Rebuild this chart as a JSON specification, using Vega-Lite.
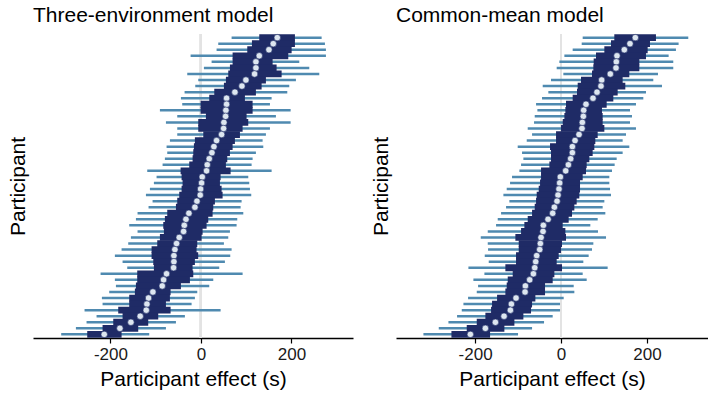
{
  "$schema": "https://vega.github.io/schema/vega-lite/v6.json",
  "padding": {"left": 7, "top": 5, "right": 0, "bottom": 4},
  "spacing": 17,
  "config": {
    "view": {"stroke": null},
    "font": "Liberation Sans",
    "title": {"fontSize": 21, "fontWeight": "normal", "anchor": "start", "frame": "group", "color": "black", "offset": 7},
    "axisX": {"domainColor": "black", "domainWidth": 1.5, "tickColor": "black", "tickWidth": 1.2, "tickSize": 5, "labelFontSize": 17, "labelColor": "#1a1a1a", "labelPadding": 3, "titleFontSize": 21, "titleFontWeight": "normal", "titleColor": "black", "titlePadding": 6, "grid": false},
    "axisY": {"domain": false, "ticks": false, "labels": false, "grid": false, "titleFontSize": 21, "titleFontWeight": "normal", "titleColor": "black", "titlePadding": 5}
  },
  "datasets": {
    "three": [
      {"p":1,"m":168.7,"lo1":128.9,"hi1":207.7,"lo2":67.8,"hi2":266.7},
      {"p":2,"m":159.8,"lo1":112.7,"hi1":207.7,"lo2":38.3,"hi2":274.0},
      {"p":3,"m":150.3,"lo1":102.4,"hi1":200.4,"lo2":34.6,"hi2":276.2},
      {"p":4,"m":128.9,"lo1":70.0,"hi1":193.0,"lo2":-22.8,"hi2":276.2},
      {"p":5,"m":121.5,"lo1":70.0,"hi1":158.4,"lo2":23.6,"hi2":217.3},
      {"p":6,"m":121.5,"lo1":64.1,"hi1":167.2,"lo2":6.6,"hi2":239.4},
      {"p":7,"m":118.6,"lo1":60.4,"hi1":178.3,"lo2":-30.2,"hi2":261.5},
      {"p":8,"m":99.4,"lo1":55.2,"hi1":143.6,"lo2":-5.9,"hi2":209.9},
      {"p":9,"m":90.6,"lo1":50.8,"hi1":134.1,"lo2":-12.5,"hi2":195.2},
      {"p":10,"m":75.1,"lo1":29.5,"hi1":121.5,"lo2":-36.1,"hi2":190.8},
      {"p":11,"m":56.7,"lo1":18.4,"hi1":97.2,"lo2":-44.2,"hi2":156.2},
      {"p":12,"m":56.7,"lo1":-0.7,"hi1":114.2,"lo2":-41.3,"hi2":152.5},
      {"p":13,"m":55.2,"lo1":-0.7,"hi1":114.2,"lo2":-90.6,"hi2":198.2},
      {"p":14,"m":54.5,"lo1":11.0,"hi1":100.9,"lo2":-52.3,"hi2":165.7},
      {"p":15,"m":50.8,"lo1":-5.9,"hi1":104.6,"lo2":-77.3,"hi2":198.2},
      {"p":16,"m":50.1,"lo1":-5.9,"hi1":92.1,"lo2":-52.3,"hi2":152.5},
      {"p":17,"m":45.7,"lo1":5.2,"hi1":86.2,"lo2":-52.3,"hi2":143.6},
      {"p":18,"m":34.6,"lo1":-13.3,"hi1":75.1,"lo2":-68.5,"hi2":136.3},
      {"p":19,"m":28.7,"lo1":-15.5,"hi1":70.0,"lo2":-75.9,"hi2":137.8},
      {"p":20,"m":24.3,"lo1":-16.9,"hi1":64.1,"lo2":-74.4,"hi2":121.5},
      {"p":21,"m":18.4,"lo1":-18.4,"hi1":58.2,"lo2":-79.6,"hi2":114.2},
      {"p":22,"m":14.0,"lo1":-25.8,"hi1":55.2,"lo2":-84.7,"hi2":112.0},
      {"p":23,"m":12.5,"lo1":-44.9,"hi1":65.6,"lo2":-118.6,"hi2":156.2},
      {"p":24,"m":2.9,"lo1":-42.7,"hi1":43.5,"lo2":-98.0,"hi2":104.6},
      {"p":25,"m":1.5,"lo1":-40.5,"hi1":42.0,"lo2":-103.9,"hi2":106.8},
      {"p":26,"m":-0.7,"lo1":-42.7,"hi1":45.7,"lo2":-112.7,"hi2":108.3},
      {"p":27,"m":-1.5,"lo1":-47.9,"hi1":47.9,"lo2":-121.5,"hi2":111.2},
      {"p":28,"m":-8.8,"lo1":-52.3,"hi1":30.9,"lo2":-106.8,"hi2":89.9},
      {"p":29,"m":-13.3,"lo1":-55.2,"hi1":27.3,"lo2":-115.7,"hi2":87.7},
      {"p":30,"m":-26.5,"lo1":-74.4,"hi1":25.8,"lo2":-140.0,"hi2":93.6},
      {"p":31,"m":-33.1,"lo1":-79.6,"hi1":16.2,"lo2":-143.6,"hi2":80.3},
      {"p":32,"m":-36.8,"lo1":-83.2,"hi1":12.5,"lo2":-158.4,"hi2":78.8},
      {"p":33,"m":-38.3,"lo1":-81.8,"hi1":3.7,"lo2":-140.0,"hi2":64.1},
      {"p":34,"m":-47.9,"lo1":-90.6,"hi1":1.5,"lo2":-154.7,"hi2":60.4},
      {"p":35,"m":-53.8,"lo1":-96.5,"hi1":-8.1,"lo2":-160.6,"hi2":50.8},
      {"p":36,"m":-57.5,"lo1":-109.0,"hi1":-9.6,"lo2":-175.3,"hi2":67.8},
      {"p":37,"m":-59.7,"lo1":-109.0,"hi1":-5.9,"lo2":-190.1,"hi2":64.8},
      {"p":38,"m":-59.7,"lo1":-105.3,"hi1":-13.3,"lo2":-173.1,"hi2":53.0},
      {"p":39,"m":-60.4,"lo1":-103.9,"hi1":-18.4,"lo2":-162.8,"hi2":40.5},
      {"p":40,"m":-75.9,"lo1":-140.7,"hi1":-16.9,"lo2":-221.7,"hi2":92.1},
      {"p":41,"m":-82.5,"lo1":-140.7,"hi1":-24.3,"lo2":-190.1,"hi2":27.3},
      {"p":42,"m":-85.5,"lo1":-143.6,"hi1":-44.2,"lo2":-187.8,"hi2":18.4},
      {"p":43,"m":-106.1,"lo1":-145.9,"hi1":-67.0,"lo2":-202.6,"hi2":-8.1},
      {"p":44,"m":-115.7,"lo1":-158.4,"hi1":-68.5,"lo2":-218.8,"hi2":-13.3},
      {"p":45,"m":-119.3,"lo1":-158.4,"hi1":-77.3,"lo2":-217.3,"hi2":-20.6},
      {"p":46,"m":-120.8,"lo1":-182.7,"hi1":-67.0,"lo2":-257.1,"hi2":43.5},
      {"p":47,"m":-134.1,"lo1":-173.1,"hi1":-94.3,"lo2":-230.6,"hi2":-35.4},
      {"p":48,"m":-154.7,"lo1":-193.7,"hi1":-116.4,"lo2":-252.7,"hi2":-55.2},
      {"p":49,"m":-179.0,"lo1":-217.3,"hi1":-138.5,"lo2":-276.2,"hi2":-77.3},
      {"p":50,"m":-213.6,"lo1":-251.2,"hi1":-175.3,"lo2":-308.7,"hi2":-114.2}
    ],
    "common": [
      {"p":1,"m":172.9,"lo1":124.0,"hi1":220.9,"lo2":50.4,"hi2":296.1},
      {"p":2,"m":160.5,"lo1":116.3,"hi1":207.0,"lo2":48.1,"hi2":273.6},
      {"p":3,"m":147.3,"lo1":100.8,"hi1":201.6,"lo2":27.1,"hi2":267.4},
      {"p":4,"m":130.2,"lo1":81.4,"hi1":197.7,"lo2":7.8,"hi2":250.4},
      {"p":5,"m":128.7,"lo1":76.0,"hi1":182.2,"lo2":-3.9,"hi2":261.2},
      {"p":6,"m":127.9,"lo1":75.2,"hi1":182.2,"lo2":-10.1,"hi2":261.2},
      {"p":7,"m":114.7,"lo1":72.1,"hi1":158.9,"lo2":5.4,"hi2":225.6},
      {"p":8,"m":94.6,"lo1":46.5,"hi1":143.4,"lo2":-23.3,"hi2":214.7},
      {"p":9,"m":93.0,"lo1":38.8,"hi1":149.6,"lo2":-42.6,"hi2":234.9},
      {"p":10,"m":83.7,"lo1":37.2,"hi1":131.8,"lo2":-29.5,"hi2":197.7},
      {"p":11,"m":74.4,"lo1":27.1,"hi1":121.7,"lo2":-44.2,"hi2":191.5},
      {"p":12,"m":58.1,"lo1":11.6,"hi1":106.2,"lo2":-58.1,"hi2":174.4},
      {"p":13,"m":52.7,"lo1":10.1,"hi1":95.3,"lo2":-55.0,"hi2":160.5},
      {"p":14,"m":51.9,"lo1":7.8,"hi1":96.9,"lo2":-61.2,"hi2":165.1},
      {"p":15,"m":49.6,"lo1":3.9,"hi1":96.9,"lo2":-62.8,"hi2":160.5},
      {"p":16,"m":48.8,"lo1":0.0,"hi1":100.8,"lo2":-77.5,"hi2":174.4},
      {"p":17,"m":41.9,"lo1":-11.6,"hi1":85.3,"lo2":-67.4,"hi2":151.2},
      {"p":18,"m":32.6,"lo1":-11.6,"hi1":79.8,"lo2":-79.8,"hi2":143.4},
      {"p":19,"m":26.4,"lo1":-25.6,"hi1":77.5,"lo2":-100.8,"hi2":158.9},
      {"p":20,"m":26.4,"lo1":-23.3,"hi1":73.6,"lo2":-90.7,"hi2":143.4},
      {"p":21,"m":22.5,"lo1":-23.3,"hi1":65.9,"lo2":-87.6,"hi2":129.5},
      {"p":22,"m":17.1,"lo1":-27.1,"hi1":59.7,"lo2":-93.0,"hi2":124.8},
      {"p":23,"m":10.9,"lo1":-46.5,"hi1":58.1,"lo2":-96.9,"hi2":118.6},
      {"p":24,"m":-1.6,"lo1":-46.5,"hi1":50.4,"lo2":-114.0,"hi2":112.4},
      {"p":25,"m":-3.1,"lo1":-48.8,"hi1":44.2,"lo2":-118.6,"hi2":112.4},
      {"p":26,"m":-4.7,"lo1":-51.9,"hi1":44.2,"lo2":-126.4,"hi2":114.0},
      {"p":27,"m":-7.0,"lo1":-56.6,"hi1":42.6,"lo2":-134.1,"hi2":116.3},
      {"p":28,"m":-9.3,"lo1":-58.1,"hi1":36.4,"lo2":-120.2,"hi2":100.8},
      {"p":29,"m":-15.5,"lo1":-61.2,"hi1":31.0,"lo2":-127.9,"hi2":96.9},
      {"p":30,"m":-19.4,"lo1":-67.4,"hi1":25.6,"lo2":-139.5,"hi2":103.1},
      {"p":31,"m":-30.2,"lo1":-77.5,"hi1":17.8,"lo2":-147.3,"hi2":85.3},
      {"p":32,"m":-41.1,"lo1":-85.3,"hi1":3.9,"lo2":-151.2,"hi2":68.2},
      {"p":33,"m":-41.9,"lo1":-93.0,"hi1":10.1,"lo2":-170.5,"hi2":86.0},
      {"p":34,"m":-46.5,"lo1":-106.2,"hi1":11.6,"lo2":-186.8,"hi2":104.7},
      {"p":35,"m":-48.1,"lo1":-98.4,"hi1":2.3,"lo2":-170.5,"hi2":75.2},
      {"p":36,"m":-49.6,"lo1":-98.4,"hi1":0.0,"lo2":-169.8,"hi2":72.1},
      {"p":37,"m":-56.6,"lo1":-104.7,"hi1":-5.4,"lo2":-177.5,"hi2":64.3},
      {"p":38,"m":-58.9,"lo1":-104.7,"hi1":-10.1,"lo2":-168.2,"hi2":51.9},
      {"p":39,"m":-61.2,"lo1":-129.5,"hi1":2.3,"lo2":-215.5,"hi2":108.5},
      {"p":40,"m":-64.3,"lo1":-112.4,"hi1":-15.5,"lo2":-178.3,"hi2":50.4},
      {"p":41,"m":-72.9,"lo1":-124.0,"hi1":-19.4,"lo2":-203.9,"hi2":59.7},
      {"p":42,"m":-82.9,"lo1":-126.4,"hi1":-37.2,"lo2":-193.0,"hi2":29.5},
      {"p":43,"m":-83.7,"lo1":-129.5,"hi1":-37.2,"lo2":-196.1,"hi2":31.0},
      {"p":44,"m":-104.7,"lo1":-148.8,"hi1":-59.7,"lo2":-216.3,"hi2":6.2},
      {"p":45,"m":-115.5,"lo1":-160.5,"hi1":-67.4,"lo2":-227.1,"hi2":-2.3},
      {"p":46,"m":-117.8,"lo1":-162.8,"hi1":-69.8,"lo2":-231.0,"hi2":-2.3},
      {"p":47,"m":-132.6,"lo1":-176.0,"hi1":-87.6,"lo2":-241.9,"hi2":-19.4},
      {"p":48,"m":-152.7,"lo1":-196.1,"hi1":-108.5,"lo2":-262.0,"hi2":-39.5},
      {"p":49,"m":-176.0,"lo1":-219.4,"hi1":-131.8,"lo2":-284.5,"hi2":-67.4},
      {"p":50,"m":-210.9,"lo1":-255.0,"hi1":-165.1,"lo2":-320.2,"hi2":-100.0}
    ]
  },
  "hconcat": [
    {
      "title": {"text": "Three-environment model", "frame": "group", "anchor": "start"},
      "width": 320,
      "height": 304,
      "data": {"name": "three"},
      "encoding": {
        "y": {"field": "p", "type": "ordinal", "title": "Participant", "scale": {"paddingInner": 0, "paddingOuter": 0.1}}
      },
      "layer": [
        {"mark": {"type": "rule", "color": "#e3e3e3", "strokeWidth": 2}, "encoding": {"x": {"datum": 0, "type": "quantitative", "scale": {"domain": [-371, 336], "nice": false, "zero": false}, "title": "Participant effect (s)", "axis": {"values": [-200, 0, 200], "labelExpr": "replace(datum.label, '\u2212', '-')"}}, "y": null}},
        {"mark": {"type": "rule", "color": "#4f8ab0", "strokeWidth": 2.5}, "encoding": {"x": {"field": "lo2", "type": "quantitative", "title": "Participant effect (s)"}, "x2": {"field": "hi2"}}},
        {"mark": {"type": "bar", "color": "#1f2b66", "height": {"band": 1.12}}, "encoding": {"x": {"field": "lo1", "type": "quantitative", "title": "Participant effect (s)"}, "x2": {"field": "hi1"}}},
        {"mark": {"type": "point", "shape": "circle", "filled": true, "size": 42, "fill": "#dde6f0", "stroke": "#1f2b66", "strokeWidth": 0.6, "opacity": 1}, "encoding": {"x": {"field": "m", "type": "quantitative", "title": "Participant effect (s)"}}}
      ]
    },
    {
      "title": {"text": "Common-mean model", "frame": "group", "anchor": "start"},
      "width": 312,
      "height": 304,
      "data": {"name": "common"},
      "encoding": {
        "y": {"field": "p", "type": "ordinal", "title": "Participant", "scale": {"paddingInner": 0, "paddingOuter": 0.1}}
      },
      "layer": [
        {"mark": {"type": "rule", "color": "#e3e3e3", "strokeWidth": 2}, "encoding": {"x": {"datum": 0, "type": "quantitative", "scale": {"domain": [-384, 342], "nice": false, "zero": false}, "title": "Participant effect (s)", "axis": {"values": [-200, 0, 200], "labelExpr": "replace(datum.label, '\u2212', '-')"}}, "y": null}},
        {"mark": {"type": "rule", "color": "#4f8ab0", "strokeWidth": 2.5}, "encoding": {"x": {"field": "lo2", "type": "quantitative", "title": "Participant effect (s)"}, "x2": {"field": "hi2"}}},
        {"mark": {"type": "bar", "color": "#1f2b66", "height": {"band": 1.12}}, "encoding": {"x": {"field": "lo1", "type": "quantitative", "title": "Participant effect (s)"}, "x2": {"field": "hi1"}}},
        {"mark": {"type": "point", "shape": "circle", "filled": true, "size": 42, "fill": "#dde6f0", "stroke": "#1f2b66", "strokeWidth": 0.6, "opacity": 1}, "encoding": {"x": {"field": "m", "type": "quantitative", "title": "Participant effect (s)"}}}
      ]
    }
  ]
}
